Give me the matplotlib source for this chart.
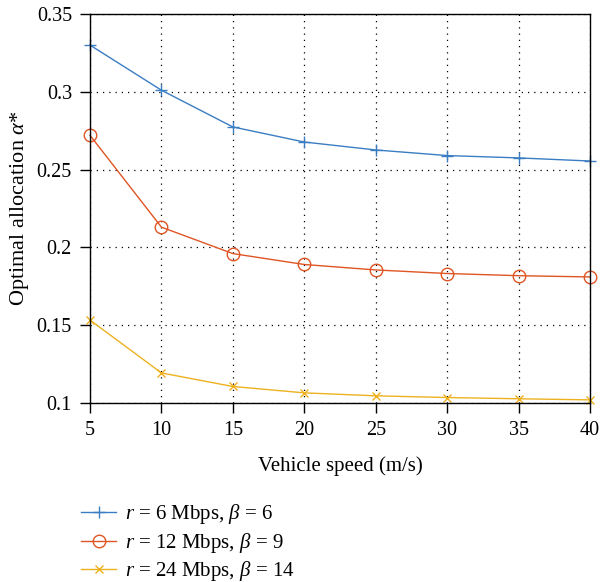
import matplotlib
matplotlib.use("Agg")
import matplotlib.pyplot as plt

plt.rcParams['font.family'] = ['Liberation Serif', 'DejaVu Serif']
plt.rcParams['mathtext.fontset'] = 'custom'
plt.rcParams['mathtext.rm'] = 'Liberation Serif'
plt.rcParams['mathtext.it'] = 'Liberation Serif:italic'

speed = [5, 10, 15, 20, 25, 30, 35, 40]
alloc_r6 = [0.330, 0.301, 0.2774, 0.2677, 0.2626, 0.259, 0.2575, 0.2555]
alloc_r12 = [0.272, 0.213, 0.196, 0.189, 0.1855, 0.1832, 0.1818, 0.181]
alloc_r24 = [0.1533, 0.1193, 0.1106, 0.1065, 0.1046, 0.1035, 0.1027, 0.102]
labels = [r'$r$ = 6 Mbps, $\beta$ = 6', r'$r$ = 12 Mbps, $\beta$ = 9', r'$r$ = 24 Mbps, $\beta$ = 14']
colors = ['#3a7dc3', '#df5524', '#edb120']

fig = plt.figure(figsize=(6, 5.82), dpi=100)
ax = fig.add_axes([0.15, 0.3076, 0.8333, 0.6684])

ax.plot(speed, alloc_r6, color=colors[0], marker='+', ms=9, mew=1.0, lw=1.0, label=labels[0], clip_on=False)
ax.plot(speed, alloc_r12, color=colors[1], marker='o', ms=9, mfc='none', mew=1.0, lw=1.0, label=labels[1], clip_on=False)
ax.plot(speed, alloc_r24, color=colors[2], marker='x', ms=6, mew=1.0, lw=1.0, label=labels[2], clip_on=False)

ax.set_xlim(5, 40)
ax.set_ylim(0.1, 0.35)
ax.set_xticks(speed)
ax.set_yticks([0.1, 0.15, 0.2, 0.25, 0.3, 0.35])
ax.set_yticklabels(['0.1', '0.15', '0.2', '0.25', '0.3', '0.35'])
ax.grid(True, color='black', linestyle=(0, (1, 4)), linewidth=0.9)
ax.tick_params(direction='out', length=7, labelsize=14.5, width=1, pad=6)
for s in ax.spines.values():
    s.set_linewidth(1.0)
ax.set_xlabel('Vehicle speed (m/s)', fontsize=15, labelpad=12)
ax.set_ylabel(r'Optimal allocation $\alpha$*', fontsize=16, labelpad=4)

fig.legend(loc='upper left', bbox_to_anchor=(0.135, 0.137), frameon=False, fontsize=15,
           handlelength=1.7, handletextpad=0.4, labelspacing=0.22, borderpad=0,
           borderaxespad=0)

fig.savefig('out.png', dpi=100)
